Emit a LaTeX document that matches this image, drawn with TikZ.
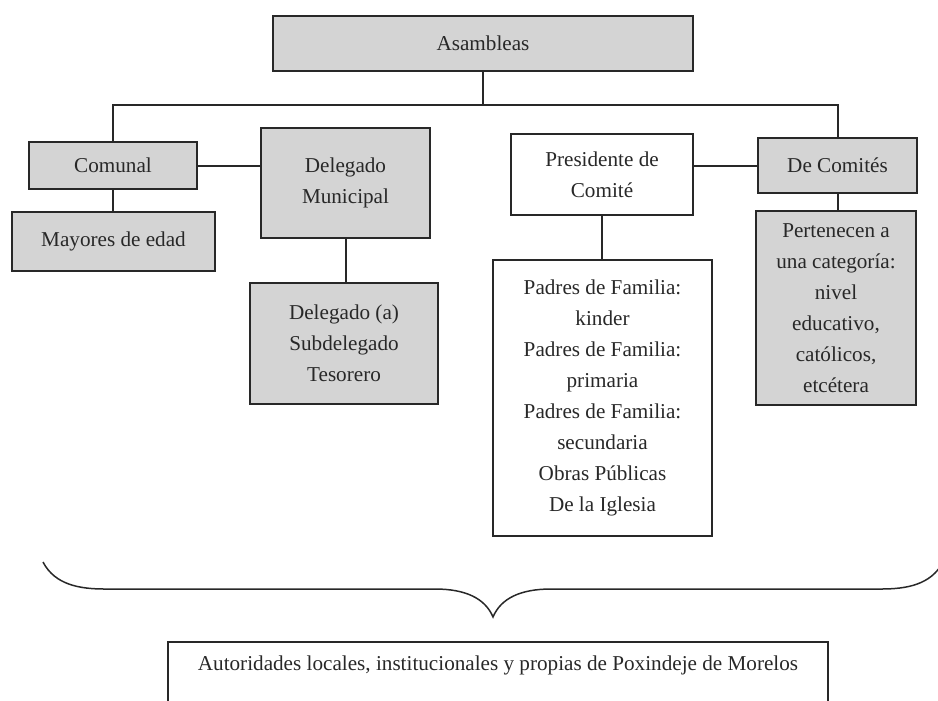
\documentclass[tikz,border=0pt]{standalone}
\usepackage{fontspec}
\setmainfont{Liberation Serif}
\definecolor{boxgray}{RGB}{212,212,212}
\definecolor{inkgray}{RGB}{40,40,40}

\begin{document}
\begin{tikzpicture}[x=0.6pt,y=-0.6pt,
  orgbox/.style={draw=inkgray,line width=1.2pt,inner sep=0pt,align=center,
    text=inkgray,font=\fontsize{12.7}{18.6}\selectfont},
  graybox/.style={orgbox,fill=boxgray},
  link/.style={draw=inkgray,line width=1.2pt}]
  \useasboundingbox (0,0) rectangle (938,700);
  % boxes
  \node[graybox,minimum width=252pt,minimum height=33pt] (asam) at (483,43.5) {Asambleas};
  \node[graybox,minimum width=100.8pt,minimum height=28.2pt] (comunal) at (113,165.5) {Comunal};
  \node[graybox,minimum width=101.4pt,minimum height=66pt] (delmun) at (345.5,183) {Delegado\\Municipal};
  \node[graybox,minimum width=121.8pt,minimum height=35.4pt] (mayores) at (113.5,241.5) {Mayores de edad};
  \node[graybox,minimum width=112.8pt,minimum height=72.6pt] (deleg) at (344,343.5) {Delegado (a)\\Subdelegado\\Tesorero};
  \node[orgbox,minimum width=109.2pt,minimum height=48.6pt] (pres) at (602,174.5) {Presidente de\\Comité};
  \node[graybox,minimum width=95.4pt,minimum height=33pt] (decom) at (837.5,165.5) {De Comités};
  \node[graybox,minimum width=96pt,minimum height=116.4pt] (pert) at (836,308) {Pertenecen a\\una categoría:\\nivel\\educativo,\\católicos,\\etcétera};
  \node[orgbox,minimum width=131.4pt,minimum height=165.6pt] (padres) at (602.5,398) {Padres de Familia:\\kinder\\Padres de Familia:\\primaria\\Padres de Familia:\\secundaria\\Obras Públicas\\De la Iglesia};
  \node[orgbox,anchor=north,minimum width=396pt,text height=16.8pt,text depth=25.2pt] (autor) at (498,641) {Autoridades locales, institucionales y propias de Poxindeje de Morelos};
  % connectors
  \coordinate (bar) at (483,105);
  \draw[link] (asam) -- (bar);
  \draw[link] (comunal.north) |- (bar) -| (decom.north);
  \draw[link] (comunal.east) -- (comunal.east -| delmun.west);
  \draw[link] (decom.west -| pres.east) -- (decom.west);
  \foreach \a/\b in {comunal/mayores,delmun/deleg,decom/pert,pres/padres}
  {
    \draw[link] (\a.south) -- (\a.south |- \b.north);
  }
  % brace
  \draw[inkgray,line width=0.9pt] (43,562) .. controls (55,585) and (80,589) .. (105,589) -- (435,589)
    .. controls (465,589) and (485,598) .. (493,617)
    .. controls (501,598) and (521,589) .. (551,589) -- (881,589)
    .. controls (906,589) and (931,585) .. (943,562);
\end{tikzpicture}
\end{document}
